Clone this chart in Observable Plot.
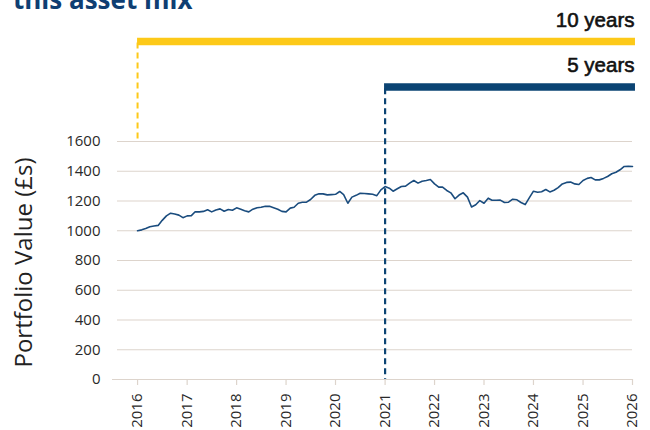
<!DOCTYPE html>
<html>
<head>
<meta charset="utf-8">
<script src="https://cdn.jsdelivr.net/npm/d3@7"></script>
<script src="https://cdn.jsdelivr.net/npm/@observablehq/plot@0.6"></script>
<style>
  html, body { margin: 0; padding: 0; background: #fff; overflow: hidden; }
  #wrap { position: relative; width: 650px; height: 430px; }
  #title { position: absolute; left: 13px; top: -14px; font-family: "Open Sans", sans-serif; font-weight: 700;
           font-size: 26px; line-height: 26px; color: #0f3e72; white-space: nowrap; }
  #chart { position: absolute; left: 0; top: 0; }
</style>
</head>
<body>
<div id="wrap">
  <div id="chart"></div>
  <div id="title">this asset mix</div>
</div>
<script>
// Monthly portfolio value (£s), Jan 2016 .. Jan 2026
const values = [
  1000, 1006, 1015, 1027, 1032, 1036, 1070, 1100, 1118, 1112, 1105, 1088,
  1100, 1102, 1128, 1127, 1130, 1141, 1127, 1140, 1147, 1131, 1143, 1138,
  1154, 1145, 1135, 1127, 1145, 1155, 1158, 1165, 1164, 1155, 1145, 1130,
  1127, 1152, 1158, 1185, 1192, 1192, 1210, 1238, 1248, 1248, 1241, 1243,
  1245, 1264, 1243, 1185, 1226, 1238, 1252, 1250, 1248, 1245, 1236, 1275,
  1297, 1286, 1266, 1282, 1297, 1300, 1320, 1338, 1320, 1333, 1338, 1345,
  1315, 1293, 1293, 1271, 1255, 1215, 1240, 1255, 1226, 1160, 1175, 1203,
  1185, 1219, 1205, 1205, 1206, 1190, 1192, 1212, 1208, 1190, 1176, 1221,
  1266, 1259, 1262, 1277, 1261, 1272, 1290, 1315, 1325, 1327, 1315, 1311,
  1338, 1352, 1358, 1342, 1342, 1352, 1365, 1383, 1393, 1410, 1432, 1434,
  1432
];
const startMonth = new Date(Date.UTC(2016, 0, 1));
const years = [2016, 2017, 2018, 2019, 2020, 2021, 2022, 2023, 2024, 2025, 2026];
const yTicks = [0, 200, 400, 600, 800, 1000, 1200, 1400, 1600];
const periodLabels = ["10 years", "5 years"];
const periodStartYears = [2016, 2021];
const periodEndYear = 2026;
const yAxisTitle = "Portfolio Value (£s)";

const series = values.map((v, i) => ({date: d3.utcMonth.offset(startMonth, i), value: v}));
const yearDate = y => new Date(Date.UTC(y, 0, 1));
const periods = periodLabels.map((label, i) => ({
  label, start: yearDate(periodStartYears[i]), end: yearDate(periodEndYear)
}));

const yellow = "#fdc918";
const navy = "#0b4473";
const grid = "#ddd4cc";

// annotation levels (in y-scale units, above the plotted 0..1600 range)
const barLevel = [2272, 1967];
const labelLevel = [2412, 2110];
const dashTop = [2262, 1955];
const dashBottom = [1600, 0];

const chart = Plot.plot({
  width: 650,
  height: 430,
  marginLeft: 112,
  marginRight: 18,
  marginTop: 141,
  marginBottom: 51,
  style: {fontFamily: "Open Sans", fontSize: "15px", color: "#2a2a2a", background: "transparent", overflow: "visible"},
  x: {type: "utc", domain: [new Date(Date.UTC(2015, 5, 30)), yearDate(periodEndYear)]},
  y: {domain: [0, 1600]},
  marks: [
    Plot.ruleY(yTicks.filter(d => d > 0), {stroke: grid, strokeWidth: 1.2, insetLeft: 5}),
    Plot.ruleY([0], {stroke: grid, strokeWidth: 1.2}),
    Plot.axisX({ticks: years.map(yearDate), tickFormat: "%Y", tickRotate: -90, tickSize: 6, tickPadding: 8,
                stroke: grid, strokeWidth: 1.2, label: null, fontSize: 15, fill: "#2a2a2a"}),
    Plot.axisY({ticks: yTicks, tickFormat: d3.format("d"), tickSize: 0, tickPadding: 12, label: null, fontSize: 15, fill: "#2a2a2a"}),
    Plot.text([yAxisTitle], {frameAnchor: "left", textAnchor: "middle", rotate: -90, dx: -88, dy: 2, fontSize: 24, fill: "#222"}),
    Plot.line(series, {x: "date", y: "value", stroke: "#1a4c7e", strokeWidth: 1.6}),
    // dashed leaders
    Plot.ruleX([periods[0]], {x: "start", y1: dashTop[0], y2: dashBottom[0], stroke: yellow, strokeWidth: 2, strokeDasharray: "6,4"}),
    Plot.ruleX([periods[1]], {x: "start", y1: dashTop[1], y2: dashBottom[1], stroke: navy, strokeWidth: 2.2, strokeDasharray: "6,4"}),
    // period bars
    Plot.ruleY([periods[0]], {x1: "start", x2: d => d3.utcDay.offset(d.end, 22), y: () => barLevel[0], stroke: yellow, strokeWidth: 7.5}),
    Plot.ruleY([periods[1]], {x1: d => d3.utcDay.offset(d.start, -4), x2: d => d3.utcDay.offset(d.end, 22), y: () => barLevel[1], stroke: navy, strokeWidth: 7.5}),
    // period labels
    Plot.text(periods, {x: "end", y: (d, i) => labelLevel[i], text: "label", textAnchor: "end", dx: 2,
                        fontFamily: "Liberation Sans, Arial, sans-serif", fontSize: 20.5, fill: "#111",
                        stroke: "#111", strokeWidth: 0.6})
  ]
});
document.getElementById("chart").appendChild(chart);
</script>
</body>
</html>
